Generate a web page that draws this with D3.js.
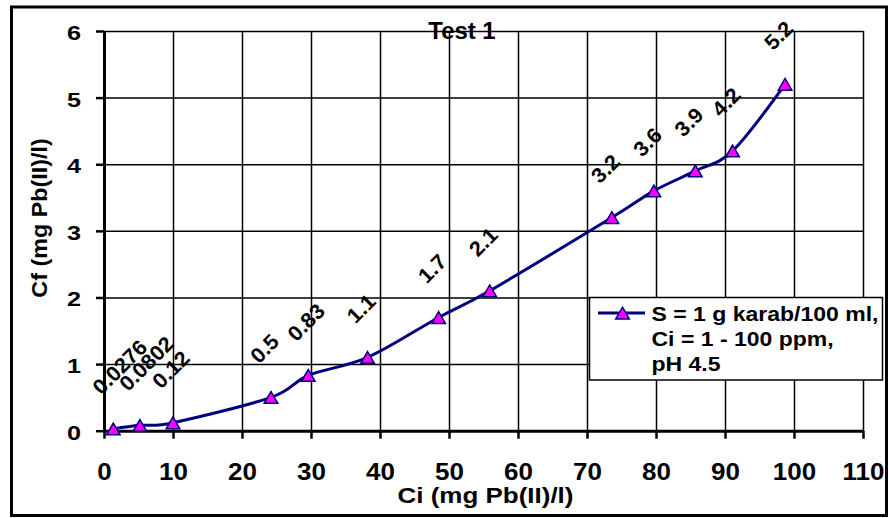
<!DOCTYPE html>
<html>
<head>
<meta charset="utf-8">
<script src="https://cdn.jsdelivr.net/npm/d3@7"></script>
<style>
  html, body { margin: 0; padding: 0; background: #fff; }
  svg { display: block; }
  text { font-family: "Liberation Sans", Arial, sans-serif; font-weight: bold; fill: #000; }
</style>
</head>
<body>
<script>
// Ci (x) and Cf (y) for Test 1
var ci = [1.35, 5.2, 10, 24.2, 29.6, 38.2, 48.5, 55.9, 73.6, 79.7, 85.7, 91.1, 98.7];
var cf = [0.0276, 0.0802, 0.12, 0.5, 0.83, 1.1, 1.7, 2.1, 3.2, 3.6, 3.9, 4.2, 5.2];
var pointLabels = ["0.0276", "0.0802", "0.12", "0.5", "0.83", "1.1", "1.7", "2.1",
                   "3.2", "3.6", "3.9", "4.2", "5.2"];
var xTicks = [0, 10, 20, 30, 40, 50, 60, 70, 80, 90, 100, 110];
var yTicks = [0, 1, 2, 3, 4, 5, 6];
var legendLines = ["S = 1 g karab/100 ml,", "Ci = 1 - 100 ppm,", "pH 4.5"];

var width = 889, height = 518;
var plot = {left: 104, right: 863, top: 31, bottom: 430.7};

var svg = d3.select("body").append("svg")
    .attr("width", width)
    .attr("height", height);

// the source picture is stretched sideways a little, so widen the text
function stretch(sel, k) {
  sel.each(function() {
    var w = this.getComputedTextLength();
    d3.select(this).attr("textLength", w * k).attr("lengthAdjust", "spacingAndGlyphs");
  });
}

var x = d3.scaleLinear().domain([0, 110]).range([plot.left, plot.right]);
var y = d3.scaleLinear().domain([0, 6]).range([plot.bottom, plot.top]);
var fmt = d3.format("d");

// outer frame
svg.append("rect")
    .attr("x", 11.5).attr("y", 7)
    .attr("width", 875).attr("height", 508.5)
    .attr("fill", "#fff")
    .attr("stroke", "#000")
    .attr("stroke-width", 3);

// grid
svg.append("g")
    .attr("transform", "translate(0," + plot.bottom + ")")
    .call(d3.axisBottom(x).tickValues(xTicks.slice(1)).tickSize(-(plot.bottom - plot.top)).tickFormat(""))
    .call(function(g) { g.select(".domain").remove(); })
    .selectAll("line").attr("stroke", "#000").attr("stroke-width", 1.5);

svg.append("g")
    .attr("transform", "translate(" + plot.left + ",0)")
    .call(d3.axisLeft(y).tickValues(yTicks.slice(1)).tickSize(-(plot.right - plot.left)).tickFormat(""))
    .call(function(g) { g.select(".domain").remove(); })
    .selectAll("line").attr("stroke", "#000").attr("stroke-width", 1.5);

// axes
var xAxis = svg.append("g")
    .attr("transform", "translate(0," + plot.bottom + ")")
    .call(d3.axisBottom(x).tickValues(xTicks).tickFormat(fmt).tickSize(8).tickSizeOuter(0).tickPadding(25));
var yAxis = svg.append("g")
    .attr("transform", "translate(" + plot.left + ",0)")
    .call(d3.axisLeft(y).tickValues(yTicks).tickFormat(fmt).tickSize(8).tickSizeOuter(0).tickPadding(15));

[xAxis, yAxis].forEach(function(g) {
  g.select(".domain").attr("stroke", "#000").attr("stroke-width", 3);
  g.selectAll(".tick line").attr("stroke", "#000").attr("stroke-width", 2.5);
  g.selectAll(".tick text").attr("font-family", null).attr("fill", "#000");
});
xAxis.selectAll(".tick text").attr("font-size", 23).call(stretch, 1.13);
yAxis.selectAll(".tick text").attr("font-size", 21).attr("dy", "0.4em").call(stretch, 1.2);

// series
var pts = ci.map(function(d, i) { return [x(d), y(cf[i])]; });

svg.append("path")
    .attr("d", d3.line().curve(d3.curveCardinal.tension(0))(pts))
    .attr("fill", "none")
    .attr("stroke", "#000080")
    .attr("stroke-width", 3);

var tri = d3.symbol().type(d3.symbolTriangle).size(80);

svg.append("g").selectAll("path")
    .data(pts)
  .enter().append("path")
    .attr("d", tri)
    .attr("transform", function(d) { return "translate(" + d[0] + "," + (d[1] + 2) + ")"; })
    .attr("fill", "#ff00ff")
    .attr("stroke", "#000080")
    .attr("stroke-width", 1.5);

svg.append("g").selectAll("text")
    .data(pts)
  .enter().append("text")
    .attr("transform", function(d) { return "translate(" + (d[0] - 12) + "," + (d[1] - 33) + ") rotate(-45)"; })
    .attr("font-size", 21)
    .text(function(d, i) { return pointLabels[i]; })
    .call(stretch, 1.04);

// titles
svg.append("text")
    .attr("x", 462).attr("y", 38.5)
    .attr("text-anchor", "middle")
    .attr("font-size", 23)
    .text("Test 1")
    .call(stretch, 1.04);

svg.append("text")
    .attr("x", (plot.left + plot.right) / 2 + 2).attr("y", 503)
    .attr("text-anchor", "middle")
    .attr("font-size", 22)
    .text("Ci (mg Pb(II)/l)")
    .call(stretch, 1.18);

svg.append("text")
    .attr("transform", "translate(47,218) rotate(-90)")
    .attr("text-anchor", "middle")
    .attr("font-size", 22)
    .text("Cf (mg Pb(II)/l)")
    .call(stretch, 1.06);

// legend
var legend = svg.append("g");
legend.append("rect")
    .attr("x", 589.5).attr("y", 297.5)
    .attr("width", 293).attr("height", 82.5)
    .attr("fill", "#fff")
    .attr("stroke", "#000")
    .attr("stroke-width", 1.5);
legend.append("line")
    .attr("x1", 598).attr("x2", 645)
    .attr("y1", 313).attr("y2", 313)
    .attr("stroke", "#000080")
    .attr("stroke-width", 3);
legend.append("path")
    .attr("d", tri)
    .attr("transform", "translate(622.5,315)")
    .attr("fill", "#ff00ff")
    .attr("stroke", "#000080")
    .attr("stroke-width", 1.5);
legend.selectAll("text.lg")
    .data(legendLines)
  .enter().append("text")
    .attr("class", "lg")
    .attr("x", 651.5)
    .attr("y", function(d, i) { return 320.7 + i * 25; })
    .attr("font-size", 20)
    .text(function(d) { return d; })
    .call(stretch, 1.15);
</script>
</body>
</html>
